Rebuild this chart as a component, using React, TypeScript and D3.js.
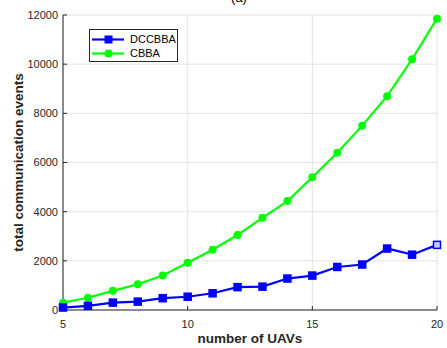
import React from "react";
import * as d3 from "d3";

const uavCounts = [5, 6, 7, 8, 9, 10, 11, 12, 13, 14, 15, 16, 17, 18, 19, 20];
const dccbbaEvents = [100, 170, 300, 340, 480, 540, 680, 930, 950, 1280, 1400, 1750, 1850, 2500, 2250, 2650];
const cbbaEvents = [300, 500, 780, 1050, 1400, 1920, 2450, 3050, 3750, 4430, 5400, 6400, 7500, 8700, 10200, 11850];
const xTicks = [5, 10, 15, 20];
const yTicks = [0, 2000, 4000, 6000, 8000, 10000, 12000];

const W = 447;
const H = 348;
const left = 63;
const right = 437;
const top = 15;
const bottom = 310;
const font = "'Liberation Sans', Arial, sans-serif";

export default function App() {
  const x = d3.scaleLinear().domain([5, 20]).range([left, right]);
  const y = d3.scaleLinear().domain([0, 12000]).range([bottom, top]);
  const line = d3
    .line<number>()
    .x((_, i) => x(uavCounts[i]))
    .y((d) => y(d));

  const blue = "#0000ff";
  const green = "#00ff00";

  return (
    <svg
      width={W}
      height={H}
      style={{ position: "absolute", left: 0, top: 0, background: "#fff" }}
      fontFamily={font}
    >
      {/* title, clipped by the top edge */}
      <text x={239} y={2} textAnchor="middle" fontSize={13} fill="#000">
        (a)
      </text>

      {/* grid */}
      {xTicks.map((t) => (
        <line key={"gx" + t} x1={x(t)} x2={x(t)} y1={top} y2={bottom} stroke="#e3e3e3" strokeWidth={1} />
      ))}
      {yTicks.map((t) => (
        <line key={"gy" + t} x1={left} x2={right} y1={y(t)} y2={y(t)} stroke="#e3e3e3" strokeWidth={1} />
      ))}

      {/* axes */}
      <line x1={left} x2={left} y1={top} y2={bottom} stroke="#262626" strokeWidth={1} />
      <line x1={left} x2={right} y1={bottom} y2={bottom} stroke="#262626" strokeWidth={1} />
      {yTicks.map((t) => (
        <g key={"ty" + t}>
          <line x1={left} x2={left + 4} y1={y(t)} y2={y(t)} stroke="#262626" />
          <text x={left - 5} y={y(t)} dy="0.35em" textAnchor="end" fontSize={11} fill="#262626">
            {t}
          </text>
        </g>
      ))}
      {xTicks.map((t) => (
        <g key={"tx" + t}>
          <line x1={x(t)} x2={x(t)} y1={bottom} y2={bottom - 4} stroke="#262626" />
          <text x={x(t)} y={bottom + 18} textAnchor="middle" fontSize={11} fill="#262626">
            {t}
          </text>
        </g>
      ))}

      {/* axis labels */}
      <text x={250} y={343} textAnchor="middle" fontSize={13.5} fontWeight="bold" fill="#262626">
        number of UAVs
      </text>
      <text
        transform={`translate(23, ${(top + bottom) / 2}) rotate(-90)`}
        textAnchor="middle"
        fontSize={13.5}
        fontWeight="bold"
        fill="#262626"
      >
        total communication events
      </text>

      {/* CBBA */}
      <path d={line(cbbaEvents) || ""} fill="none" stroke={green} strokeWidth={2.2} />
      {cbbaEvents.map((v, i) => (
        <circle key={"c" + i} cx={x(uavCounts[i])} cy={y(v)} r={4} fill={green} />
      ))}

      {/* DCCBBA */}
      <path d={line(dccbbaEvents) || ""} fill="none" stroke={blue} strokeWidth={2.2} />
      {dccbbaEvents.map((v, i) => (
        <rect
          key={"d" + i}
          x={x(uavCounts[i]) - 3.5}
          y={y(v) - 3.5}
          width={7}
          height={7}
          fill={i === dccbbaEvents.length - 1 ? "#ccccff" : blue}
          stroke={blue}
          strokeWidth={1.5}
        />
      ))}

      {/* legend */}
      <rect x={89.5} y={29.5} width={88} height={32} fill="#fff" stroke="#262626" strokeWidth={1} />
      <line x1={92} x2={124} y1={39.5} y2={39.5} stroke={blue} strokeWidth={2.2} />
      <rect x={105} y={36} width={7} height={7} fill={blue} stroke={blue} strokeWidth={1} />
      <text x={130} y={39.5} dy="0.35em" fontSize={11} fill="#000">
        DCCBBA
      </text>
      <line x1={92} x2={124} y1={53.5} y2={53.5} stroke={green} strokeWidth={2.2} />
      <circle cx={108.5} cy={53.5} r={4} fill={green} />
      <text x={130} y={53.5} dy="0.35em" fontSize={11} fill="#000">
        CBBA
      </text>
    </svg>
  );
}
